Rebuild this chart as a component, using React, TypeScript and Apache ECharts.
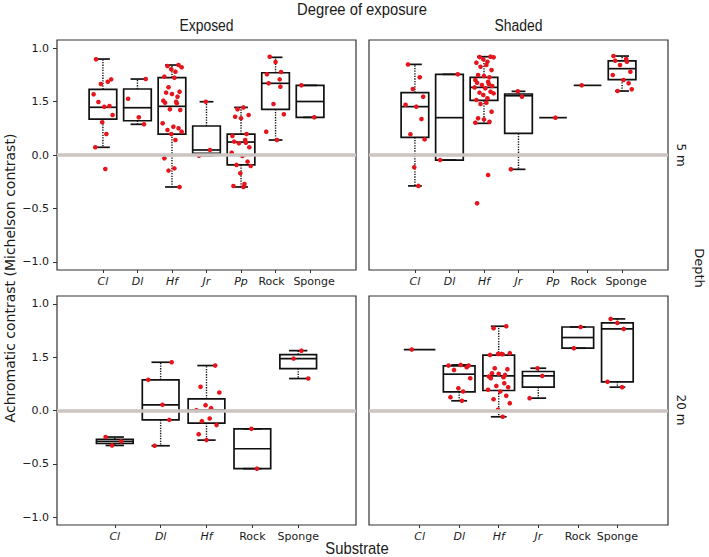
import React, { useEffect, useRef } from "react";
import * as echarts from "echarts";

// ---------- data ----------
const CATS_TOP = ["Cl", "Dl", "Hf", "Jr", "Pp", "Rock", "Sponge"];
const CATS_EXP_20 = ["Cl", "Dl", "Hf", "Rock", "Sponge"];
const CATS_SHA_20 = ["Cl", "Dl", "Hf", "Jr", "Rock", "Sponge"];
const ITALIC_CATS = ["Cl", "Dl", "Hf", "Jr", "Pp"];

const Y_TICKS = [-1, -0.5, 0, 0.5, 1];
const Y_TICK_LABELS = ["\u22121.0", "\u22120.5", "0.0", "1.5", "1.0"];

// box stats: [min, q1, median, q3, max]
const BOX_EXP_5 = [
  [0.072, 0.336, 0.446, 0.614, 0.897],
  [0.287, 0.32, 0.442, 0.617, 0.71],
  [-0.299, 0.196, 0.455, 0.723, 0.841],
  [-0.006, 0.016, 0.047, 0.271, 0.498],
  [-0.299, -0.093, 0.121, 0.196, 0.445],
  [0.14, 0.427, 0.67, 0.769, 0.913],
  [0.352, 0.352, 0.5, 0.651, 0.651],
];
const PTS_EXP_5 = [
  [0.894, 0.685, 0.664, 0.707, 0.567, 0.45, 0.458, 0.495, 0.374, 0.306, 0.196, 0.072, -0.131],
  [0.71, 0.526, 0.352, 0.287],
  [0.841, 0.832, 0.82, 0.801, 0.779, 0.732, 0.723, 0.633, 0.592, 0.583, 0.57, 0.545, 0.508, 0.498, 0.489, 0.483, 0.427, 0.421, 0.296, 0.265, 0.249, 0.234, 0.218, 0.196, 0.14, -0.031, -0.125, -0.146, -0.299],
  [0.498, 0.047, -0.006],
  [0.445, 0.427, 0.374, 0.358, 0.343, 0.196, 0.178, 0.14, 0.125, 0.115, 0.109, 0.072, 0.022, -0.009, -0.062, -0.093, -0.103, -0.171, -0.271, -0.29, -0.299],
  [0.918, 0.869, 0.776, 0.754, 0.707, 0.67, 0.639, 0.477, 0.38, 0.218, 0.14],
  [0.651, 0.352],
];

const BOX_SHA_5 = [
  [-0.289, 0.165, 0.452, 0.583, 0.847],
  [-0.047, -0.047, 0.349, 0.754, 0.754],
  [0.296, 0.511, 0.632, 0.726, 0.919],
  [-0.134, 0.202, 0.554, 0.57, 0.595],
  [0.349, 0.349, 0.349, 0.349, 0.349],
  [0.651, 0.651, 0.651, 0.651, 0.651],
  [0.598, 0.704, 0.807, 0.879, 0.925],
];
const PTS_SHA_5 = [
  [0.847, 0.726, 0.617, 0.545, 0.47, 0.452, 0.336, 0.193, 0.146, -0.115, -0.289],
  [0.754, -0.047],
  [0.919, 0.915, 0.913, 0.894, 0.872, 0.863, 0.841, 0.825, 0.794, 0.748, 0.738, 0.726, 0.701, 0.685, 0.676, 0.664, 0.654, 0.645, 0.632, 0.623, 0.592, 0.583, 0.576, 0.561, 0.53, 0.514, 0.489, 0.477, 0.405, 0.343, 0.333, 0.311, 0.302, -0.187, -0.452],
  [0.595, 0.545, -0.134],
  [0.349],
  [0.651],
  [0.925, 0.897, 0.882, 0.872, 0.841, 0.779, 0.748, 0.701, 0.67, 0.598, 0.614],
];

const BOX_EXP_20 = [
  [-0.328, -0.31, -0.29, -0.27, -0.249],
  [-0.331, -0.088, 0.053, 0.288, 0.453],
  [-0.278, -0.118, 0.003, 0.11, 0.422],
  [-0.546, -0.546, -0.359, -0.172, -0.172],
  [0.3, 0.394, 0.487, 0.525, 0.562],
];
const PTS_EXP_20 = [
  [-0.249, -0.29, -0.328],
  [0.453, 0.288, 0.053, -0.088, -0.331],
  [0.422, 0.222, 0.169, 0.05, 0.022, 0.003, -0.075, -0.1, -0.137, -0.222, -0.278],
  [-0.172, -0.546],
  [0.562, 0.487, 0.3],
];

const BOX_SHA_20 = [
  [0.572, 0.572, 0.572, 0.572, 0.572],
  [0.091, 0.175, 0.341, 0.419, 0.428],
  [-0.059, 0.188, 0.325, 0.519, 0.791],
  [0.116, 0.219, 0.325, 0.366, 0.397],
  [0.585, 0.585, 0.685, 0.784, 0.784],
  [0.219, 0.269, 0.766, 0.822, 0.86],
];
const PTS_SHA_20 = [
  [0.572],
  [0.422, 0.422, 0.428, 0.406, 0.381, 0.303, 0.209, 0.178, 0.125, 0.091],
  [0.791, 0.772, 0.538, 0.531, 0.528, 0.522, 0.531, 0.397, 0.388, 0.35, 0.344, 0.334, 0.319, 0.313, 0.303, 0.256, 0.231, 0.219, 0.194, 0.178, 0.138, 0.106, 0.069, 0.006, -0.059],
  [0.397, 0.325, 0.116],
  [0.784, 0.585],
  [0.86, 0.822, 0.766, 0.269, 0.219],
];

// ---------- layout / style ----------
const JITTER = [-0.2, 0.14, -0.06, 0.24, -0.27, 0.04, 0.19, -0.13, 0.28, -0.02, 0.1, -0.22, 0.07, -0.1, 0.22, -0.17, 0.0, 0.16, -0.25, 0.12];
const FONT_N = "'Liberation Sans', Arial, sans-serif";
const FONT_D = "'DejaVu Sans', Verdana, sans-serif";

const PANELS = [
  { cats: CATS_TOP, boxes: BOX_EXP_5, pts: PTS_EXP_5, grid: { left: 57, top: 40, width: 299, height: 230 }, pad: 1.33, yLabels: true, spread: true },
  { cats: CATS_TOP, boxes: BOX_SHA_5, pts: PTS_SHA_5, grid: { left: 369, top: 40, width: 299, height: 230 }, pad: 1.33, yLabels: false, spread: true },
  { cats: CATS_EXP_20, boxes: BOX_EXP_20, pts: PTS_EXP_20, grid: { left: 57, top: 296, width: 299, height: 229 }, pad: 1.26, yLabels: true, spread: false },
  { cats: CATS_SHA_20, boxes: BOX_SHA_20, pts: PTS_SHA_20, grid: { left: 369, top: 296, width: 299, height: 229 }, pad: 1.28, yLabels: false, spread: false },
];

function renderBox(params: any, api: any) {
  const x = api.value(0);
  const mn = api.value(1), q1 = api.value(2), md = api.value(3), q3 = api.value(4), mx = api.value(5);
  const bw = api.size([0.8, 0])[0];
  const cw = api.size([0.4, 0])[0];
  const pMn = api.coord([x, mn]);
  const pQ1 = api.coord([x, q1]);
  const pMd = api.coord([x, md]);
  const pQ3 = api.coord([x, q3]);
  const pMx = api.coord([x, mx]);
  const cx = pMd[0];
  const stroke = "#111";
  const children: any[] = [];
  const degenerate = mx - mn < 1e-9;
  if (!degenerate) {
    children.push({ type: "line", shape: { x1: cx, y1: pQ3[1], x2: cx, y2: pMx[1] }, style: { stroke, lineWidth: 1.4, lineDash: [1.3, 1.3] } });
    children.push({ type: "line", shape: { x1: cx, y1: pQ1[1], x2: cx, y2: pMn[1] }, style: { stroke, lineWidth: 1.4, lineDash: [1.3, 1.3] } });
    children.push({ type: "line", shape: { x1: cx - cw / 2, y1: pMx[1], x2: cx + cw / 2, y2: pMx[1] }, style: { stroke, lineWidth: 1.7 } });
    children.push({ type: "line", shape: { x1: cx - cw / 2, y1: pMn[1], x2: cx + cw / 2, y2: pMn[1] }, style: { stroke, lineWidth: 1.7 } });
    children.push({ type: "rect", shape: { x: cx - bw / 2, y: pQ3[1], width: bw, height: pQ1[1] - pQ3[1] }, style: { fill: "none", stroke, lineWidth: 1.7 } });
  }
  children.push({ type: "line", shape: { x1: cx - bw / 2, y1: pMd[1], x2: cx + bw / 2, y2: pMd[1] }, style: { stroke, lineWidth: 1.7 } });
  return { type: "group", children };
}

function buildOption() {
  const grid: any[] = [];
  const xAxis: any[] = [];
  const yAxis: any[] = [];
  const series: any[] = [];
  const base = { fontSize: 11, fontFamily: FONT_D, color: "#1a1a1a" };
  PANELS.forEach((p, gi) => {
    grid.push({ ...p.grid, show: true, borderColor: "#333", borderWidth: 1.2, backgroundColor: "#fff" });
    const idx = p.cats.map((_, i) => i);
    xAxis.push({
      type: "value",
      gridIndex: gi,
      position: "bottom",
      min: -p.pad,
      max: p.cats.length - 1 + p.pad,
      axisLine: { show: false, onZero: false },
      splitLine: { show: false },
      axisTick: { show: true, customValues: idx, length: 3, lineStyle: { color: "#333", width: 1 } },
      axisLabel: {
        customValues: idx,
        margin: 6,
        ...base,
        formatter: (v: number) => {
          const name = p.cats[Math.round(v)];
          if (!name) return "";
          if (ITALIC_CATS.includes(name)) return `{it|${name}}`;
          if (p.spread && name === "Rock") return `{rk|${name}}`;
          if (p.spread && name === "Sponge") return `{sp|${name}}`;
          return `{rm|${name}}`;
        },
        rich: {
          it: { ...base, fontStyle: "italic" },
          rm: { ...base },
          rk: { ...base, padding: [0, 8, 0, 0] },
          sp: { ...base, padding: [0, 0, 0, 8] },
        },
      },
    });
    yAxis.push({
      type: "value",
      gridIndex: gi,
      position: "left",
      min: -1.075,
      max: 1.075,
      axisLine: { show: false, onZero: false },
      splitLine: { show: false },
      axisTick: { show: p.yLabels, customValues: Y_TICKS, length: 4, lineStyle: { color: "#333", width: 1 } },
      axisLabel: {
        show: p.yLabels,
        customValues: Y_TICKS,
        margin: 8,
        ...base,
        formatter: (v: number) => {
          const i = Y_TICKS.findIndex((t) => Math.abs(t - v) < 1e-6);
          return i >= 0 ? Y_TICK_LABELS[i] : "";
        },
      },
    });
    series.push({
      type: "scatter",
      xAxisIndex: gi,
      yAxisIndex: gi,
      data: [],
      z: 1,
      silent: true,
      markLine: {
        silent: true,
        symbol: "none",
        label: { show: false },
        lineStyle: { color: "#cbc4c0", width: 3.5, type: "solid" },
        data: [{ yAxis: 0 }],
      },
    });
    series.push({
      type: "custom",
      xAxisIndex: gi,
      yAxisIndex: gi,
      z: 2,
      silent: true,
      renderItem: renderBox,
      encode: { x: 0, y: [1, 2, 3, 4, 5] },
      data: p.boxes.map((b, i) => [i, ...b]),
    });
    const pts: number[][] = [];
    p.pts.forEach((vals, ci) => {
      vals.forEach((v, k) => {
        pts.push([ci + JITTER[(k + ci * 3) % JITTER.length], v]);
      });
    });
    series.push({
      type: "scatter",
      xAxisIndex: gi,
      yAxisIndex: gi,
      z: 3,
      symbolSize: 4.6,
      itemStyle: { color: "#e8141c", opacity: 1 },
      data: pts,
    });
  });

  const narrow = (x: number, y: number, text: string, size: number) => ({
    type: "text",
    x,
    y,
    scaleX: 0.87,
    style: { text, font: `${size}px ${FONT_N}`, fill: "#1a1a1a", textAlign: "center", textVerticalAlign: "middle" },
  });

  const graphic = [
    narrow(362, 9, "Degree of exposure", 17),
    narrow(206.5, 25, "Exposed", 16),
    narrow(518.5, 25, "Shaded", 16),
    narrow(357, 548, "Substrate", 17),
    { type: "text", x: 681, y: 155, rotation: -Math.PI / 2, style: { text: "5 m", font: `12px ${FONT_D}`, fill: "#1a1a1a", textAlign: "center", textVerticalAlign: "middle" } },
    { type: "text", x: 681, y: 410, rotation: -Math.PI / 2, style: { text: "20 m", font: `12px ${FONT_D}`, fill: "#1a1a1a", textAlign: "center", textVerticalAlign: "middle" } },
    { type: "text", x: 699, y: 268, rotation: -Math.PI / 2, style: { text: "Depth", font: `13px ${FONT_D}`, fill: "#1a1a1a", textAlign: "center", textVerticalAlign: "middle" } },
    { type: "text", x: 10, y: 278, rotation: Math.PI / 2, style: { text: "Achromatic contrast (Michelson contrast)", font: `14px ${FONT_D}`, fill: "#1a1a1a", textAlign: "center", textVerticalAlign: "middle" } },
  ];

  return { animation: false, backgroundColor: "#fff", grid, xAxis, yAxis, series, graphic };
}

export default function App() {
  const ref = useRef<HTMLDivElement>(null);
  useEffect(() => {
    if (!ref.current) return;
    const chart = echarts.init(ref.current, undefined, { renderer: "svg" });
    chart.setOption(buildOption() as any);
    return () => chart.dispose();
  }, []);
  return <div ref={ref} style={{ position: "fixed", left: 0, top: 0, width: 709, height: 557 }} />;
}
